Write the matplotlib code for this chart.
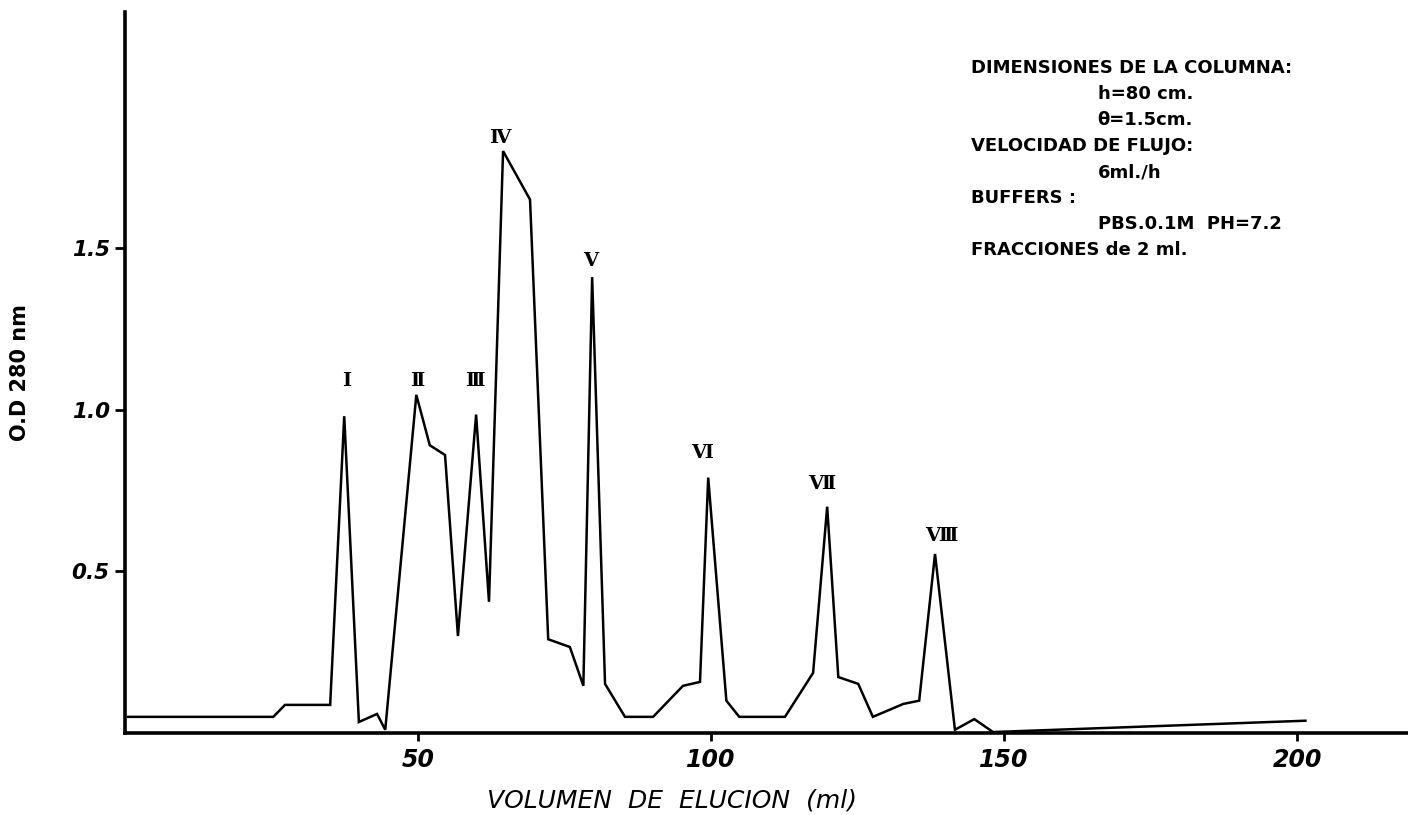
import matplotlib
matplotlib.use("Agg")
import matplotlib.pyplot as plt

# volumen de elucion (ml) y densidad optica a 280 nm
volumen = [0.5, 25.3, 27.3, 35.0, 37.4, 39.9, 43.0, 44.4, 49.7, 52.0,
           54.6, 56.8, 59.9, 62.1, 64.5, 69.1, 72.2, 75.9, 78.2, 79.7,
           81.9, 85.3, 90.1, 95.2, 98.1, 99.5, 102.6, 104.8, 112.6, 117.4,
           119.8, 121.7, 125.1, 127.6, 132.8, 135.5, 138.2, 141.6, 144.9, 148.1,
           201.4]
densidad = [0.05, 0.05, 0.087, 0.087, 0.98, 0.034, 0.059, 0.01, 1.046, 0.89,
            0.86, 0.30, 0.985, 0.406, 1.80, 1.65, 0.29, 0.266, 0.146, 1.41,
            0.152, 0.05, 0.05, 0.146, 0.158, 0.79, 0.10, 0.05, 0.05, 0.186,
            0.70, 0.173, 0.152, 0.05, 0.09, 0.10, 0.554, 0.01, 0.043, 0.003,
            0.038]

# etiquetas de los picos
picos = ["\u2160", "\u2161", "\u2162", "\u2163", "\u2164", "\u2165", "\u2166", "\u2167"]
picos_x = [37.9, 49.8, 59.7, 63.9, 79.4, 98.5, 118.9, 139.3]
picos_y = [1.09, 1.09, 1.09, 1.84, 1.46, 0.865, 0.77, 0.61]

x_ticks = [50, 100, 150, 200]
y_ticks = [0.5, 1.0, 1.5]
y_tick_labels = ["0.5", "1.0", "1.5"]

notas = ["DIMENSIONES DE LA COLUMNA:", "h=80 cm.", "\u03b8=1.5cm.",
         "VELOCIDAD DE FLUJO:", "6ml./h", "BUFFERS :",
         "PBS.0.1M  PH=7.2", "FRACCIONES de 2 ml."]
sangria = [False, True, True, False, True, False, True, False]

fig = plt.figure(figsize=(14.08, 8.15), dpi=100)
ax = fig.add_axes([0.0888, 0.1006, 0.9112, 0.8846])

ax.plot(volumen, densidad, color="black", linewidth=1.8, solid_joinstyle="miter")

ax.set_xlim(0, 218.9)
ax.set_ylim(0, 2.23)

ax.spines["top"].set_visible(False)
ax.spines["right"].set_visible(False)
ax.spines["left"].set_linewidth(2.6)
ax.spines["bottom"].set_linewidth(2.6)

ax.set_xticks(x_ticks)
ax.set_xticklabels([str(v) for v in x_ticks], fontsize=17, style="italic",
                   fontweight="bold", family="DejaVu Sans")
ax.set_yticks(y_ticks)
ax.set_yticklabels(y_tick_labels, fontsize=15.5, style="italic",
                   fontweight="bold", family="DejaVu Sans")
ax.tick_params(axis="x", direction="out", length=6, width=2, pad=5)
ax.tick_params(axis="y", direction="out", length=7, width=2, pad=4)

# titulo del eje x (desplazado a la izquierda como en el original)
ax.text(0.426, -0.093, "VOLUMEN  DE  ELUCION  (ml)", transform=ax.transAxes,
        ha="center", va="center", fontsize=18, style="italic", family="DejaVu Sans")
ax.set_ylabel("O.D 280 nm", fontsize=15, fontweight="bold", labelpad=30,
              family="DejaVu Sans")

for etiqueta, px, py in zip(picos, picos_x, picos_y):
    ax.text(px, py, etiqueta, ha="center", va="center", fontsize=14,
            fontweight="bold", family=["DejaVu Serif", "DejaVu Sans", "Noto Sans CJK JP"])

# bloque de texto con los datos de la columna
y_txt = 0.922
for linea, ind in zip(notas, sangria):
    x_txt = 0.758 if ind else 0.659
    ax.text(x_txt, y_txt, linea, transform=ax.transAxes, ha="left", va="center",
            fontsize=13, fontweight="bold", family="DejaVu Sans")
    y_txt -= 0.036

fig.savefig("out.png", dpi=100)
